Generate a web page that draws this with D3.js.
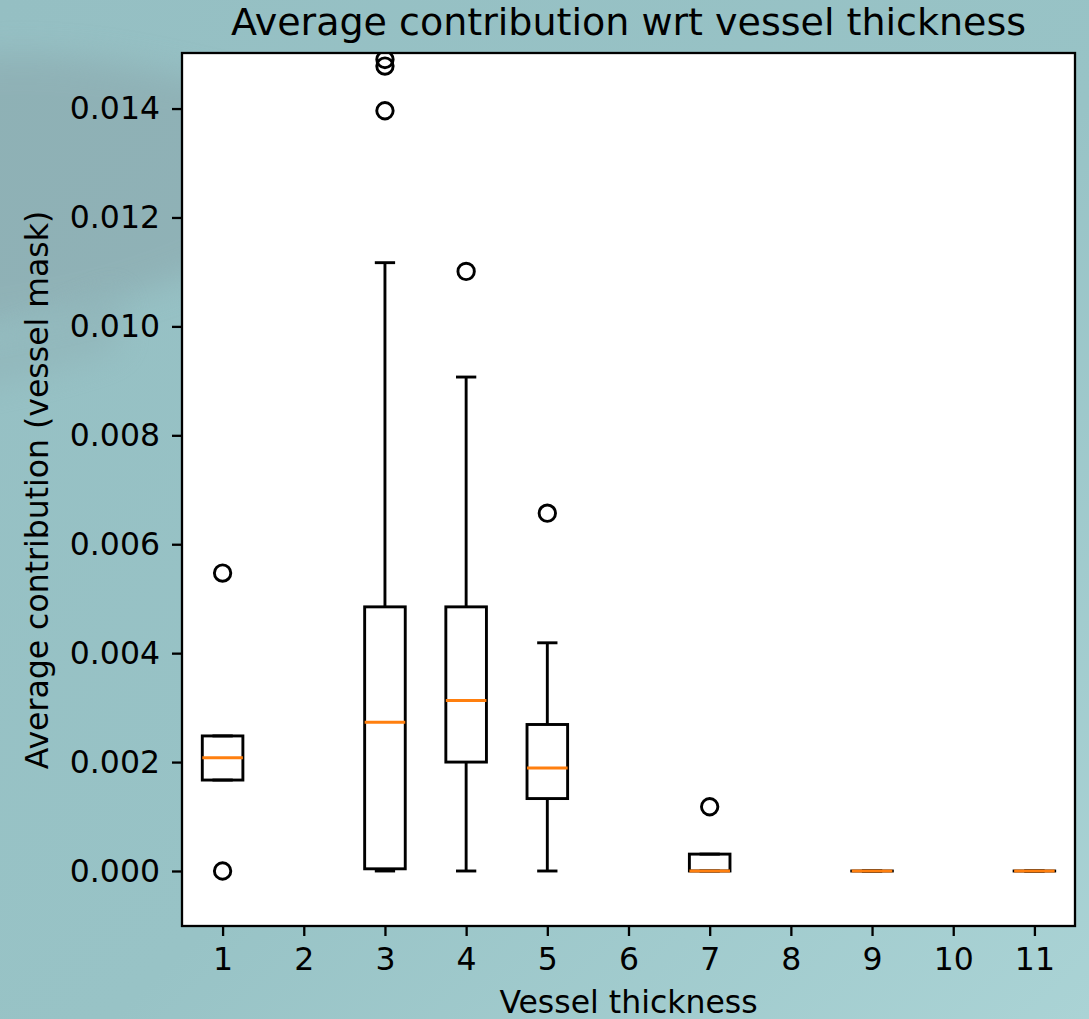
<!DOCTYPE html>
<html>
<head>
<meta charset="utf-8">
<script src="https://cdn.jsdelivr.net/npm/d3@7"></script>
<style>
    body { margin: 0; padding: 0; overflow: hidden; }
    #chart { width: 1089px; height: 1019px; }
</style>
</head>
<body>
<div id="chart"></div>
<script>
// box plot values, one entry per vessel thickness
const thickness = [1, 3, 4, 5, 7, 9, 11];
const q1_values = [0.00167, 0.00004, 0.00200, 0.00133, 0.0, 0.0, 0.0];
const median_values = [0.00208, 0.00273, 0.00313, 0.00189, 0.0, 0.0, 0.0];
const q3_values = [0.00248, 0.00485, 0.00485, 0.00269, 0.00031, 0.0, 0.0];
const whisker_low = [0.00167, 0.0, 0.0, 0.0, 0.0, 0.0, 0.0];
const whisker_high = [0.00248, 0.01117, 0.00907, 0.00419, 0.00031, 0.0, 0.0];
const outlier_values = [
    [0.00547, 0.0],
    [0.01396, 0.01478, 0.01490],
    [0.01101],
    [0.00657],
    [0.00118],
    [],
    []
];
const x_ticks = [1, 2, 3, 4, 5, 6, 7, 8, 9, 10, 11];
const y_ticks = [0.000, 0.002, 0.004, 0.006, 0.008, 0.010, 0.012, 0.014];

const boxes = thickness.map((t, i) => ({
    pos: t,
    q1: q1_values[i],
    med: median_values[i],
    q3: q3_values[i],
    lo: whisker_low[i],
    hi: whisker_high[i],
    fliers: outlier_values[i]
}));

const total_width = 1089;
const total_height = 1019;
const margin = { top: 53, right: 14, bottom: 93, left: 182 };
const width = total_width - margin.left - margin.right;
const height = total_height - margin.top - margin.bottom;
const font = "'DejaVu Sans', sans-serif";
const label_size = "31.5px";
const lw = 2.9;

const root = d3.select("#chart")
    .append("svg")
    .attr("width", total_width)
    .attr("height", total_height);

// teal photo-like background
const defs = root.append("defs");
const bg = defs.append("linearGradient")
    .attr("id", "bg-gradient")
    .attr("x1", "0%").attr("y1", "0%")
    .attr("x2", "100%").attr("y2", "100%");
bg.append("stop").attr("offset", "0%").attr("stop-color", "#95bfc3");
bg.append("stop").attr("offset", "55%").attr("stop-color", "#98c3c6");
bg.append("stop").attr("offset", "100%").attr("stop-color", "#aad3d5");

const blur = defs.append("filter")
    .attr("id", "soft")
    .attr("x", "-50%").attr("y", "-50%")
    .attr("width", "200%").attr("height", "200%");
blur.append("feGaussianBlur").attr("stdDeviation", 16);

root.append("rect")
    .attr("width", total_width)
    .attr("height", total_height)
    .attr("fill", "url(#bg-gradient)");

root.append("path")
    .attr("d", "M-40,60 C60,45 160,70 260,95 L260,240 C170,290 90,310 -40,330 Z")
    .attr("fill", "#8aa6ab")
    .attr("opacity", 0.55)
    .attr("filter", "url(#soft)");

root.append("path")
    .attr("d", "M-40,350 C20,340 60,320 120,290 L120,350 C60,370 20,380 -40,390 Z")
    .attr("fill", "#8dabb0")
    .attr("opacity", 0.4)
    .attr("filter", "url(#soft)");

const svg = root.append("g")
    .attr("transform", `translate(${margin.left},${margin.top})`);

svg.append("rect")
    .attr("width", width)
    .attr("height", height)
    .attr("fill", "#ffffff");

const x = d3.scaleLinear()
    .domain([0.5, 11.5])
    .range([0, width]);

const y = d3.scaleLinear()
    .domain([-0.00101, 0.01502])
    .range([height, 0]);

const box_half = (x(1.25) - x(1));
const cap_half = (x(1.125) - x(1));

// whiskers
svg.selectAll(".whisker-low")
    .data(boxes)
    .enter().append("line")
    .attr("x1", d => x(d.pos)).attr("x2", d => x(d.pos))
    .attr("y1", d => y(d.q1)).attr("y2", d => y(d.lo))
    .attr("stroke", "#000").attr("stroke-width", lw);

svg.selectAll(".whisker-high")
    .data(boxes)
    .enter().append("line")
    .attr("x1", d => x(d.pos)).attr("x2", d => x(d.pos))
    .attr("y1", d => y(d.q3)).attr("y2", d => y(d.hi))
    .attr("stroke", "#000").attr("stroke-width", lw);

// caps
svg.selectAll(".cap-low")
    .data(boxes)
    .enter().append("line")
    .attr("x1", d => x(d.pos) - cap_half).attr("x2", d => x(d.pos) + cap_half)
    .attr("y1", d => y(d.lo)).attr("y2", d => y(d.lo))
    .attr("stroke", "#000").attr("stroke-width", lw);

svg.selectAll(".cap-high")
    .data(boxes)
    .enter().append("line")
    .attr("x1", d => x(d.pos) - cap_half).attr("x2", d => x(d.pos) + cap_half)
    .attr("y1", d => y(d.hi)).attr("y2", d => y(d.hi))
    .attr("stroke", "#000").attr("stroke-width", lw);

// boxes
svg.selectAll(".box")
    .data(boxes)
    .enter().append("rect")
    .attr("x", d => x(d.pos) - box_half)
    .attr("y", d => y(d.q3))
    .attr("width", box_half * 2)
    .attr("height", d => Math.max(y(d.q1) - y(d.q3), 0.01))
    .attr("fill", "none")
    .attr("stroke", "#000")
    .attr("stroke-width", lw);

// medians
svg.selectAll(".median")
    .data(boxes)
    .enter().append("line")
    .attr("x1", d => x(d.pos) - box_half).attr("x2", d => x(d.pos) + box_half)
    .attr("y1", d => y(d.med)).attr("y2", d => y(d.med))
    .attr("stroke", "#ff7f0e").attr("stroke-width", lw);

// outliers
const fliers = boxes.flatMap(d => d.fliers.map(v => ({ pos: d.pos, v: v })));
const clip = defs.append("clipPath").attr("id", "plot-clip");
clip.append("rect").attr("width", width).attr("height", height);

svg.append("g")
    .attr("clip-path", "url(#plot-clip)")
    .selectAll(".flier")
    .data(fliers)
    .enter().append("circle")
    .attr("cx", d => x(d.pos))
    .attr("cy", d => y(d.v))
    .attr("r", 8.2)
    .attr("fill", "none")
    .attr("stroke", "#000")
    .attr("stroke-width", lw);

// axes
const x_axis = svg.append("g")
    .attr("transform", `translate(0,${height})`)
    .call(d3.axisBottom(x).tickValues(x_ticks).tickSize(10).tickPadding(12).tickFormat(d3.format("d")));

const y_axis = svg.append("g")
    .call(d3.axisLeft(y).tickValues(y_ticks).tickSize(10).tickPadding(12).tickFormat(d3.format(".3f")));

[x_axis, y_axis].forEach(ax => {
    ax.select(".domain").remove();
    ax.selectAll(".tick line").attr("stroke", "#000").attr("stroke-width", 2.3);
    ax.selectAll(".tick text")
        .style("font-family", font)
        .style("font-size", label_size)
        .attr("fill", "#000");
});

// spines
svg.append("rect")
    .attr("width", width)
    .attr("height", height)
    .attr("fill", "none")
    .attr("stroke", "#000")
    .attr("stroke-width", 2.3);

// labels
root.append("text")
    .attr("x", margin.left + width / 2)
    .attr("y", 35)
    .attr("text-anchor", "middle")
    .style("font-family", font)
    .style("font-size", "38px")
    .attr("fill", "#000")
    .text("Average contribution wrt vessel thickness");

root.append("text")
    .attr("x", margin.left + width / 2)
    .attr("y", 1013)
    .attr("text-anchor", "middle")
    .style("font-family", font)
    .style("font-size", label_size)
    .attr("fill", "#000")
    .text("Vessel thickness");

root.append("text")
    .attr("transform", `translate(48,490) rotate(-90)`)
    .attr("text-anchor", "middle")
    .style("font-family", font)
    .style("font-size", label_size)
    .attr("fill", "#000")
    .text("Average contribution (vessel mask)");
</script>
</body>
</html>
